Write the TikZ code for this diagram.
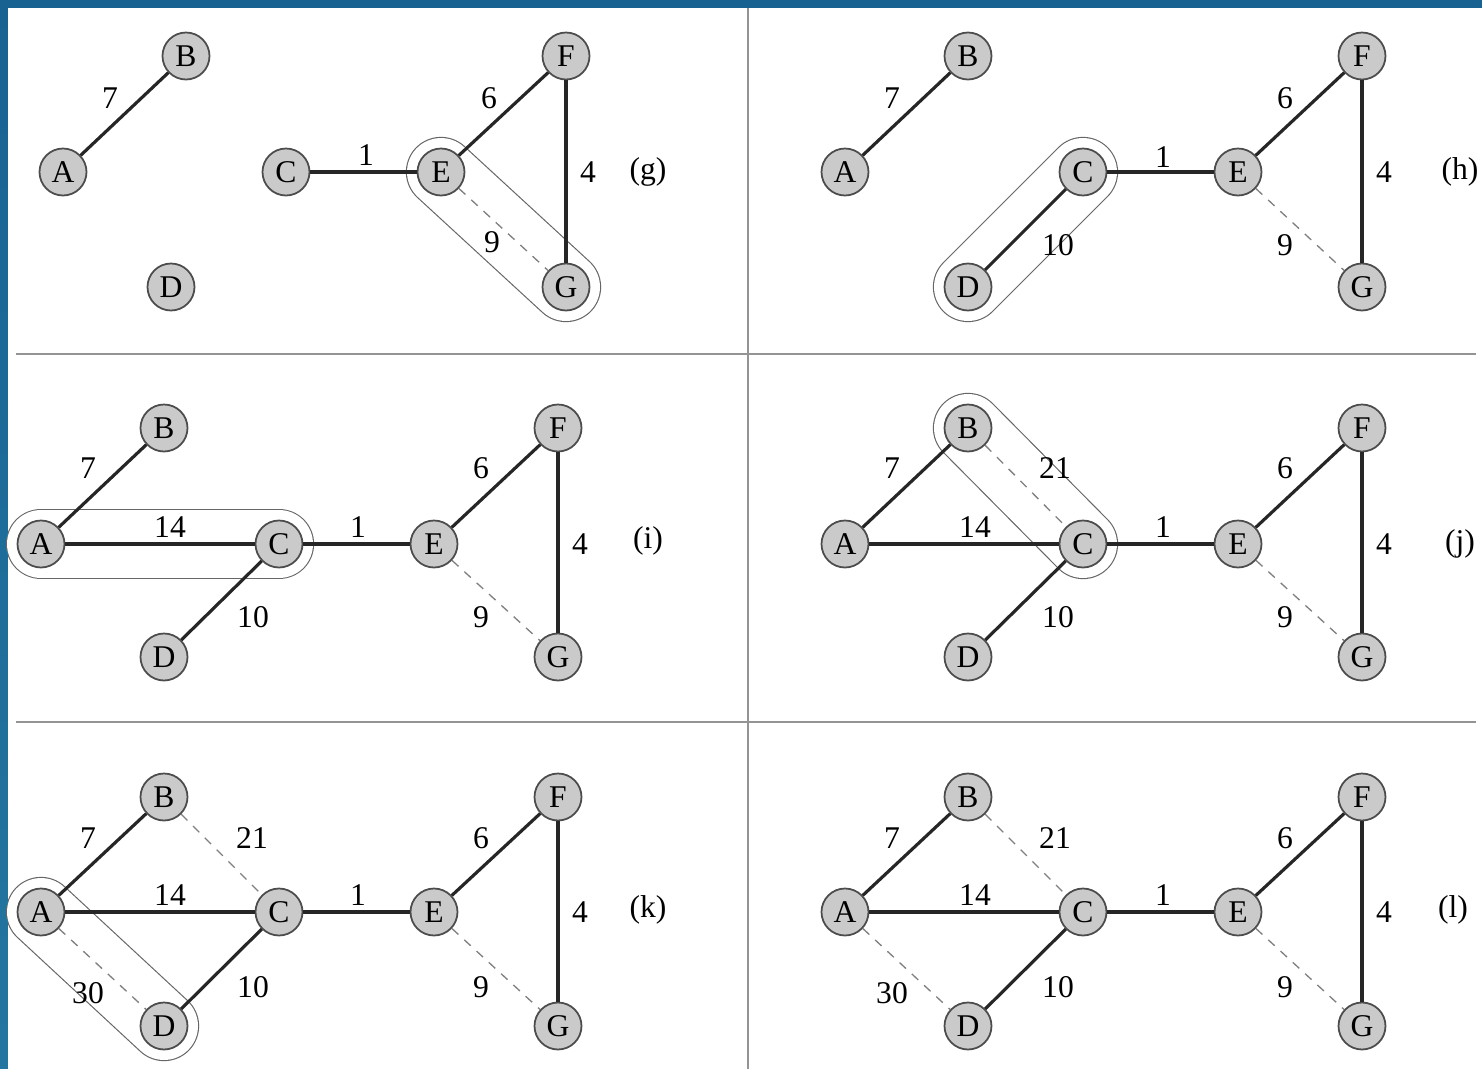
\documentclass[tikz,border=0pt]{standalone}
\usepackage{fontspec}
\setmainfont{Liberation Serif}
\usetikzlibrary{backgrounds}
\pgfdeclarelayer{paper}
\pgfsetlayers{paper,background,main}
\definecolor{mstblue}{RGB}{24,98,146}
\definecolor{mstblueb}{RGB}{36,118,160}
\definecolor{mstfill}{RGB}{202,202,202}
\tikzset{
  mst/.style={font=\fontsize{18}{21}\selectfont},
  mstnode/.style={mst, circle, draw=black!70, fill=mstfill, line width=1pt,
    minimum size=0.94cm, inner sep=0pt},
  mstedge/.style={line width=1.8pt, draw=black!85},
  mstskip/.style={line width=0.75pt, draw=black!50, dash pattern=on 5pt off 4.5pt},
  mstgrp/.style={draw=black!60, line width=0.65pt, double=white,
    double distance=1.36cm, line cap=round},
  mstlbl/.style={mst, inner sep=1pt},
  mstrule/.style={draw=black!42, line width=1.5pt},
}

\begin{document}
\begin{tikzpicture}[x=0.02cm, y=-0.02cm]
  \useasboundingbox (0,0) rectangle (1482,1069);
  \begin{pgfonlayer}{paper}
    \shade[top color=mstblue, bottom color=mstblueb] (0,0) rectangle (1482,1069);
    \fill[white] (8,8) rectangle (1482,1069);
    \draw[mstrule] (748,8) -- (748,1069);
    \draw[mstrule] (16,354) -- (1476,354);
    \draw[mstrule] (16,722) -- (1476,722);
  \end{pgfonlayer}

  % (g)
  \node[mstnode] (gA) at (63,172) {A};
  \node[mstnode] (gB) at (186,56) {B};
  \node[mstnode] (gC) at (286,172) {C};
  \node[mstnode] (gD) at (171,287) {D};
  \node[mstnode] (gE) at (441,172) {E};
  \node[mstnode] (gF) at (566,56) {F};
  \node[mstnode] (gG) at (566,287) {G};
  \node[mst] (gtag) at (648,172) {(g)};
  \begin{scope}[on background layer]
    \draw[mstgrp] (gE.center) -- (gG.center);
  \end{scope}
  \draw[mstedge] (gA) -- (gB);
  \draw[mstedge] (gC) -- (gE);
  \draw[mstedge] (gE) -- (gF);
  \draw[mstedge] (gF) -- (gG);
  \draw[mstskip] (gE) -- (gG);
  \node[mstlbl] (g7) at (110,98) {7};
  \node[mstlbl] (g1) at (366,155) {1};
  \node[mstlbl] (g6) at (489,98) {6};
  \node[mstlbl] (g4) at (588,172) {4};
  \node[mstlbl] (g9) at (492,242) {9};

  % (h)
  \node[mstnode] (hA) at (845,172) {A};
  \node[mstnode] (hB) at (968,56) {B};
  \node[mstnode] (hC) at (1083,172) {C};
  \node[mstnode] (hD) at (968,287) {D};
  \node[mstnode] (hE) at (1238,172) {E};
  \node[mstnode] (hF) at (1362,56) {F};
  \node[mstnode] (hG) at (1362,287) {G};
  \node[mst] (htag) at (1460,172) {(h)};
  \begin{scope}[on background layer]
    \draw[mstgrp] (hC.center) -- (hD.center);
  \end{scope}
  \draw[mstedge] (hA) -- (hB);
  \draw[mstedge] (hC) -- (hD);
  \draw[mstedge] (hC) -- (hE);
  \draw[mstedge] (hE) -- (hF);
  \draw[mstedge] (hF) -- (hG);
  \draw[mstskip] (hE) -- (hG);
  \node[mstlbl] (h7) at (892,98) {7};
  \node[mstlbl] (h10) at (1058,245) {10};
  \node[mstlbl] (h1) at (1163,157) {1};
  \node[mstlbl] (h6) at (1285,98) {6};
  \node[mstlbl] (h4) at (1384,172) {4};
  \node[mstlbl] (h9) at (1285,245) {9};

  % (i)
  \node[mstnode] (iA) at (41,544) {A};
  \node[mstnode] (iB) at (164,428) {B};
  \node[mstnode] (iC) at (279,544) {C};
  \node[mstnode] (iD) at (164,657) {D};
  \node[mstnode] (iE) at (434,544) {E};
  \node[mstnode] (iF) at (558,428) {F};
  \node[mstnode] (iG) at (558,657) {G};
  \node[mst] (itag) at (648,541) {(i)};
  \begin{scope}[on background layer]
    \draw[mstgrp] (iA.center) -- (iC.center);
  \end{scope}
  \draw[mstedge] (iA) -- (iB);
  \draw[mstedge] (iA) -- (iC);
  \draw[mstedge] (iC) -- (iD);
  \draw[mstedge] (iC) -- (iE);
  \draw[mstedge] (iE) -- (iF);
  \draw[mstedge] (iF) -- (iG);
  \draw[mstskip] (iE) -- (iG);
  \node[mstlbl] (i7) at (88,468) {7};
  \node[mstlbl] (i14) at (170,527) {14};
  \node[mstlbl] (i1) at (358,527) {1};
  \node[mstlbl] (i10) at (253,617) {10};
  \node[mstlbl] (i6) at (481,468) {6};
  \node[mstlbl] (i4) at (580,544) {4};
  \node[mstlbl] (i9) at (481,617) {9};

  % (j)
  \node[mstnode] (jA) at (845,544) {A};
  \node[mstnode] (jB) at (968,428) {B};
  \node[mstnode] (jC) at (1083,544) {C};
  \node[mstnode] (jD) at (968,657) {D};
  \node[mstnode] (jE) at (1238,544) {E};
  \node[mstnode] (jF) at (1362,428) {F};
  \node[mstnode] (jG) at (1362,657) {G};
  \node[mst] (jtag) at (1460,544) {(j)};
  \begin{scope}[on background layer]
    \draw[mstgrp] (jB.center) -- (jC.center);
  \end{scope}
  \draw[mstedge] (jA) -- (jB);
  \draw[mstedge] (jA) -- (jC);
  \draw[mstedge] (jC) -- (jD);
  \draw[mstedge] (jC) -- (jE);
  \draw[mstedge] (jE) -- (jF);
  \draw[mstedge] (jF) -- (jG);
  \draw[mstskip] (jB) -- (jC);
  \draw[mstskip] (jE) -- (jG);
  \node[mstlbl] (j7) at (892,468) {7};
  \node[mstlbl] (j21) at (1055,468) {21};
  \node[mstlbl] (j14) at (975,527) {14};
  \node[mstlbl] (j1) at (1163,527) {1};
  \node[mstlbl] (j10) at (1058,617) {10};
  \node[mstlbl] (j6) at (1285,468) {6};
  \node[mstlbl] (j4) at (1384,544) {4};
  \node[mstlbl] (j9) at (1285,617) {9};

  % (k)
  \node[mstnode] (kA) at (41,912) {A};
  \node[mstnode] (kB) at (164,797) {B};
  \node[mstnode] (kC) at (279,912) {C};
  \node[mstnode] (kD) at (164,1026) {D};
  \node[mstnode] (kE) at (434,912) {E};
  \node[mstnode] (kF) at (558,797) {F};
  \node[mstnode] (kG) at (558,1026) {G};
  \node[mst] (ktag) at (648,910) {(k)};
  \begin{scope}[on background layer]
    \draw[mstgrp] (kA.center) -- (kD.center);
  \end{scope}
  \draw[mstedge] (kA) -- (kB);
  \draw[mstedge] (kA) -- (kC);
  \draw[mstedge] (kC) -- (kD);
  \draw[mstedge] (kC) -- (kE);
  \draw[mstedge] (kE) -- (kF);
  \draw[mstedge] (kF) -- (kG);
  \draw[mstskip] (kB) -- (kC);
  \draw[mstskip] (kA) -- (kD);
  \draw[mstskip] (kE) -- (kG);
  \node[mstlbl] (k7) at (88,838) {7};
  \node[mstlbl] (k21) at (252,838) {21};
  \node[mstlbl] (k14) at (170,895) {14};
  \node[mstlbl] (k1) at (358,895) {1};
  \node[mstlbl] (k30) at (88,993) {30};
  \node[mstlbl] (k10) at (253,987) {10};
  \node[mstlbl] (k6) at (481,838) {6};
  \node[mstlbl] (k4) at (580,912) {4};
  \node[mstlbl] (k9) at (481,987) {9};

  % (l)
  \node[mstnode] (lA) at (845,912) {A};
  \node[mstnode] (lB) at (968,797) {B};
  \node[mstnode] (lC) at (1083,912) {C};
  \node[mstnode] (lD) at (968,1026) {D};
  \node[mstnode] (lE) at (1238,912) {E};
  \node[mstnode] (lF) at (1362,797) {F};
  \node[mstnode] (lG) at (1362,1026) {G};
  \node[mst] (ltag) at (1453,910) {(l)};
  \draw[mstedge] (lA) -- (lB);
  \draw[mstedge] (lA) -- (lC);
  \draw[mstedge] (lC) -- (lD);
  \draw[mstedge] (lC) -- (lE);
  \draw[mstedge] (lE) -- (lF);
  \draw[mstedge] (lF) -- (lG);
  \draw[mstskip] (lB) -- (lC);
  \draw[mstskip] (lA) -- (lD);
  \draw[mstskip] (lE) -- (lG);
  \node[mstlbl] (l7) at (892,838) {7};
  \node[mstlbl] (l21) at (1055,838) {21};
  \node[mstlbl] (l14) at (975,895) {14};
  \node[mstlbl] (l1) at (1163,895) {1};
  \node[mstlbl] (l30) at (892,993) {30};
  \node[mstlbl] (l10) at (1058,987) {10};
  \node[mstlbl] (l6) at (1285,838) {6};
  \node[mstlbl] (l4) at (1384,912) {4};
  \node[mstlbl] (l9) at (1285,987) {9};
\end{tikzpicture}
\end{document}
